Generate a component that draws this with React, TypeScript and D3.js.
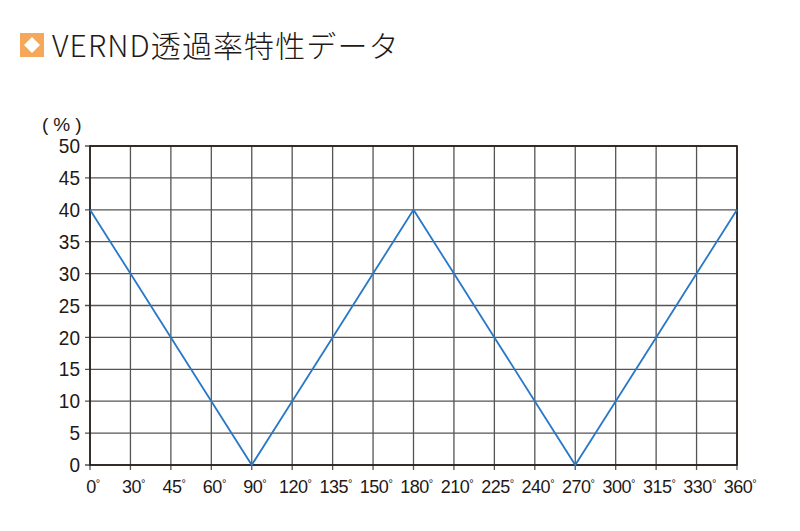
import React from "react";
import * as d3 from "d3";

const categories = ["0", "30", "45", "60", "90", "120", "135", "150", "180", "210", "225", "240", "270", "300", "315", "330", "360"];
const values = [40, 30, 20, 10, 0, 10, 20, 30, 40, 30, 20, 10, 0, 10, 20, 30, 40];
const yTicks = [0, 5, 10, 15, 20, 25, 30, 35, 40, 45, 50];
const title = "VERND透過率特性データ";
const unitLabel = "(%)";

export default function App() {
  const W = 800, H = 531;
  const left = 90, right = 737, top = 146, bottom = 465;
  const x = d3.scalePoint<string>().domain(categories).range([left, right]);
  const y = d3.scaleLinear().domain([0, 50]).range([bottom, top]);
  const line = d3.line<number>().x((_, i) => x(categories[i])!).y(d => y(d));
  const font = "'Liberation Sans', Arial, sans-serif";
  return (
    <svg width={W} height={H} style={{ position: "absolute", left: 0, top: 0, background: "#fff" }}>
      <rect x={20} y={33} width={24} height={24} fill="#f5a75a" />
      <polygon points="32,37 40,45 32,53 24,45" fill="#fff" />
      <text x={52} y={57} fontSize={30} fontWeight={300} letterSpacing={1.1} fill="#231815" fontFamily="'Noto Sans CJK JP', sans-serif">{title}</text>
      <text x={42} y={131} fontSize={19} letterSpacing={5} fill="#231815" fontFamily={font}>{unitLabel}</text>
      {categories.map(c => (
        <line key={"gx" + c} x1={x(c)} x2={x(c)} y1={top} y2={bottom + 5} stroke="#555" strokeWidth={1.3} />
      ))}
      {yTicks.map(t => (
        <line key={"gy" + t} x1={left - 5} x2={right} y1={y(t)} y2={y(t)} stroke="#555" strokeWidth={1.3} />
      ))}
      <rect x={left} y={top} width={right - left} height={bottom - top} fill="none" stroke="#231815" strokeWidth={1.6} />
      <path d={line(values)!} fill="none" stroke="#2878c8" strokeWidth={1.8} />
      {yTicks.map(t => (
        <text key={"ty" + t} x={80} y={y(t)} dy="0.36em" textAnchor="end" fontSize={20} fill="#231815" fontFamily={font} transform={`translate(80,0) scale(0.95,1) translate(-80,0)`}>{t}</text>
      ))}
      {categories.map(c => (
        <text key={"tx" + c} x={x(c)! + 3} y={493} textAnchor="middle" fontSize={18} fill="#231815" fontFamily={font} letterSpacing={-0.5}>
          {c}<tspan fontSize={11} dy={-6}>°</tspan>
        </text>
      ))}
    </svg>
  );
}
